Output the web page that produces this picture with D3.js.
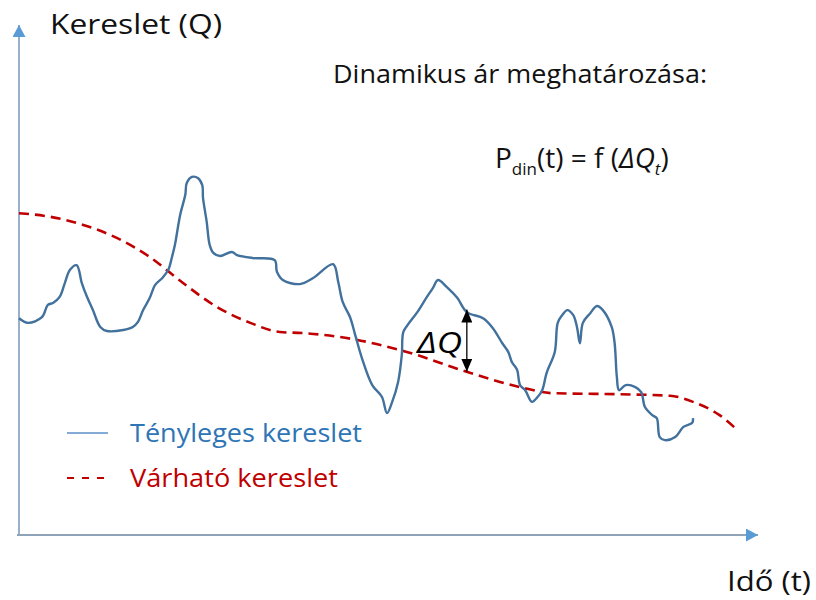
<!DOCTYPE html>
<html>
<head>
<meta charset="utf-8">
<script src="https://cdn.jsdelivr.net/npm/d3@7"></script>
<style>
  html, body { margin: 0; padding: 0; background: #fff; }
  svg { display: block; font-family: "Open Sans", sans-serif; }
</style>
</head>
<body>
<svg id="chart" width="816" height="600"></svg>
<script>
// ---- Data (time t in 0..100, demand Q in 0..100) ----
const actualT = [0, 1.2, 3.1, 3.9, 4.6, 5.5, 6.2, 6.9, 7.8, 8.5, 9.2, 10.0, 11.0, 11.9, 14.1, 15.4, 16.1, 16.8, 17.7, 18.4, 19.4, 20.2, 20.7, 21.1, 21.8, 22.5, 22.7, 23.4, 24.2, 24.8, 24.9, 25.4, 25.8, 26.3, 27.2, 28.8, 29.5, 31.7, 34.6, 34.9, 35.7, 38.0, 39.8, 42.5, 43.2, 43.8, 44.8, 45.5, 46.4, 47.8, 49.1, 49.8, 50.5, 51.3, 51.8, 52.0, 52.6, 53.9, 55.2, 56.0, 56.7, 57.9, 59.3, 60.6, 62.8, 64.1, 65.4, 66.2, 66.7, 67.4, 67.8, 68.5, 69.4, 70.2, 70.8, 71.4, 72.5, 72.9, 73.5, 74.2, 75.0, 75.5, 75.9, 76.3, 77.3, 78.2, 79.0, 80.2, 80.6, 80.9, 81.2, 82.1, 83.4, 84.2, 84.7, 85.7, 86.3, 86.7, 87.4, 88.8, 89.9, 91.1, 91.2];
const actualQ = [42.5, 41.6, 42.7, 45.1, 45.5, 46.7, 49.4, 52.0, 52.9, 49.4, 46.7, 44.1, 40.8, 40.0, 40.2, 40.8, 41.8, 44.1, 46.5, 49.0, 50.4, 52.0, 54.5, 56.9, 62.7, 66.7, 69.0, 70.2, 70.0, 68.6, 66.1, 61.4, 56.9, 55.3, 54.7, 55.5, 54.9, 54.3, 53.9, 51.6, 50.0, 49.2, 50.4, 53.1, 49.6, 45.7, 42.7, 39.2, 34.7, 29.4, 27.1, 23.9, 26.1, 30.0, 35.3, 39.8, 41.2, 43.7, 46.7, 48.4, 50.0, 48.6, 46.5, 43.7, 42.5, 40.6, 37.6, 35.9, 33.9, 32.4, 29.4, 28.4, 26.1, 27.1, 28.4, 31.8, 35.9, 41.6, 43.1, 44.1, 43.1, 40.8, 37.6, 41.6, 43.5, 44.9, 44.1, 40.8, 37.6, 31.0, 28.4, 29.4, 29.0, 28.0, 25.1, 23.5, 22.9, 19.2, 18.6, 19.2, 21.2, 22.0, 22.9];

const expectedT = [0, 4.2, 8.7, 13.3, 17.7, 22.2, 26.8, 31.3, 35.3, 38.4, 45.2, 52.0, 61.0, 67.8, 72.3, 81.3, 88.1, 91.2, 94.8, 97.2];
const expectedQ = [63.1, 62.4, 60.8, 58.2, 54.5, 49.4, 44.7, 41.6, 39.8, 39.6, 38.4, 36.1, 31.8, 29.0, 27.8, 27.6, 27.3, 26.1, 23.5, 20.6];

// Delta Q marker: time, actual value, expected value
const deltaT = [60.6];
const deltaTop = [44.2];
const deltaBottom = [32.0];

const legendLabels = ["Tényleges kereslet", "Várható kereslet"];
const axisLabels = { y: "Kereslet (Q)", x: "Idő (t)" };
const titleText = "Dinamikus ár meghatározása:";

// ---- Layout ----
const svg = d3.select("#chart");
const x = d3.scaleLinear().domain([0, 100]).range([19, 758]);
const y = d3.scaleLinear().domain([0, 100]).range([535, 25]);

const defs = svg.append("defs");
function marker(id, color, w, h) {
  defs.append("marker")
    .attr("id", id).attr("viewBox", `0 0 ${w} ${h}`)
    .attr("refX", w).attr("refY", h / 2)
    .attr("markerWidth", w).attr("markerHeight", h)
    .attr("markerUnits", "userSpaceOnUse")
    .attr("orient", "auto-start-reverse")
    .append("path").attr("d", `M0,0L${w},${h / 2}L0,${h}Z`).attr("fill", color);
}
marker("axArrow", "#5b9bd5", 12, 13);
marker("dqArrow", "#000", 13, 11);

// Axes
svg.append("line")
  .attr("x1", x(0)).attr("y1", y(0)).attr("x2", x(0)).attr("y2", y(100))
  .attr("stroke", "#7f9cbb").attr("stroke-width", 1.6)
  .attr("marker-end", "url(#axArrow)");
svg.append("line")
  .attr("x1", x(0) - 2).attr("y1", y(0)).attr("x2", x(100)).attr("y2", y(0))
  .attr("stroke", "#8ea3b8").attr("stroke-width", 2.2)
  .attr("marker-end", "url(#axArrow)");

// Expected demand (red dashed)
const expData = expectedT.map((t, i) => [t, expectedQ[i]]);
svg.append("path")
  .datum(expData)
  .attr("d", d3.line().x(d => x(d[0])).y(d => y(d[1])).curve(d3.curveMonotoneX))
  .attr("fill", "none").attr("stroke", "#c00000").attr("stroke-width", 2.6)
  .attr("stroke-dasharray", "10,6");

// Actual demand (blue)
const actData = actualT.map((t, i) => [t, actualQ[i]]);
svg.append("path")
  .datum(actData)
  .attr("d", d3.line().x(d => x(d[0])).y(d => y(d[1])).curve(d3.curveCatmullRom.alpha(0.5)))
  .attr("fill", "none").attr("stroke", "#41719c").attr("stroke-width", 2.4)
  .attr("stroke-linejoin", "round");

// Delta Q double arrow
svg.selectAll(".dq").data(deltaT).enter().append("line")
  .attr("x1", (d) => x(d)).attr("x2", (d) => x(d))
  .attr("y1", (d, i) => y(deltaBottom[i])).attr("y2", (d, i) => y(deltaTop[i]))
  .attr("stroke", "#000").attr("stroke-width", 1.3)
  .attr("marker-start", "url(#dqArrow)").attr("marker-end", "url(#dqArrow)");
svg.append("text")
  .attr("x", 417).attr("y", 353)
  .attr("font-size", 29).attr("font-style", "italic").attr("fill", "#000")
  .attr("textLength", 45).attr("lengthAdjust", "spacingAndGlyphs")
  .text("ΔQ");

// Axis titles
svg.append("text").attr("x", 50).attr("y", 34)
  .attr("font-size", 28).attr("fill", "#111")
  .attr("textLength", 172).attr("lengthAdjust", "spacingAndGlyphs")
  .text(axisLabels.y);
svg.append("text").attr("x", 727).attr("y", 591)
  .attr("font-size", 27).attr("fill", "#111")
  .attr("textLength", 84).attr("lengthAdjust", "spacingAndGlyphs")
  .text(axisLabels.x);

// Title & formula
svg.append("text").attr("x", 333).attr("y", 83)
  .attr("font-size", 25).attr("fill", "#111")
  .attr("textLength", 374).attr("lengthAdjust", "spacingAndGlyphs")
  .text(titleText);
const f = svg.append("text").attr("x", 495).attr("y", 168)
  .attr("font-size", 28).attr("fill", "#111");
f.append("tspan").text("P");
f.append("tspan").attr("font-size", 17).attr("dy", 7).text("din");
f.append("tspan").attr("dy", -7).text("(t) = f (");
f.append("tspan").attr("font-style", "italic").text("ΔQ");
f.append("tspan").attr("font-style", "italic").attr("font-size", 17).attr("dy", 7).text("t");
f.append("tspan").attr("dy", -7).text(")");

// Legend
const legColors = ["#2e75b6", "#c00000"];
const legY = [433, 478];
const legLen = [232, 208];
legendLabels.forEach((lab, i) => {
  svg.append("line")
    .attr("x1", 67).attr("x2", 108).attr("y1", legY[i]).attr("y2", legY[i])
    .attr("stroke", i === 0 ? "#5b8fc7" : "#c00000")
    .attr("stroke-width", i === 0 ? 1.3 : 2)
    .attr("stroke-dasharray", i === 0 ? null : "7,8");
  svg.append("text").attr("x", 130).attr("y", legY[i] + 9)
    .attr("font-size", 25).attr("fill", legColors[i])
    .attr("textLength", legLen[i]).attr("lengthAdjust", "spacingAndGlyphs")
    .text(lab);
});
</script>
</body>
</html>
